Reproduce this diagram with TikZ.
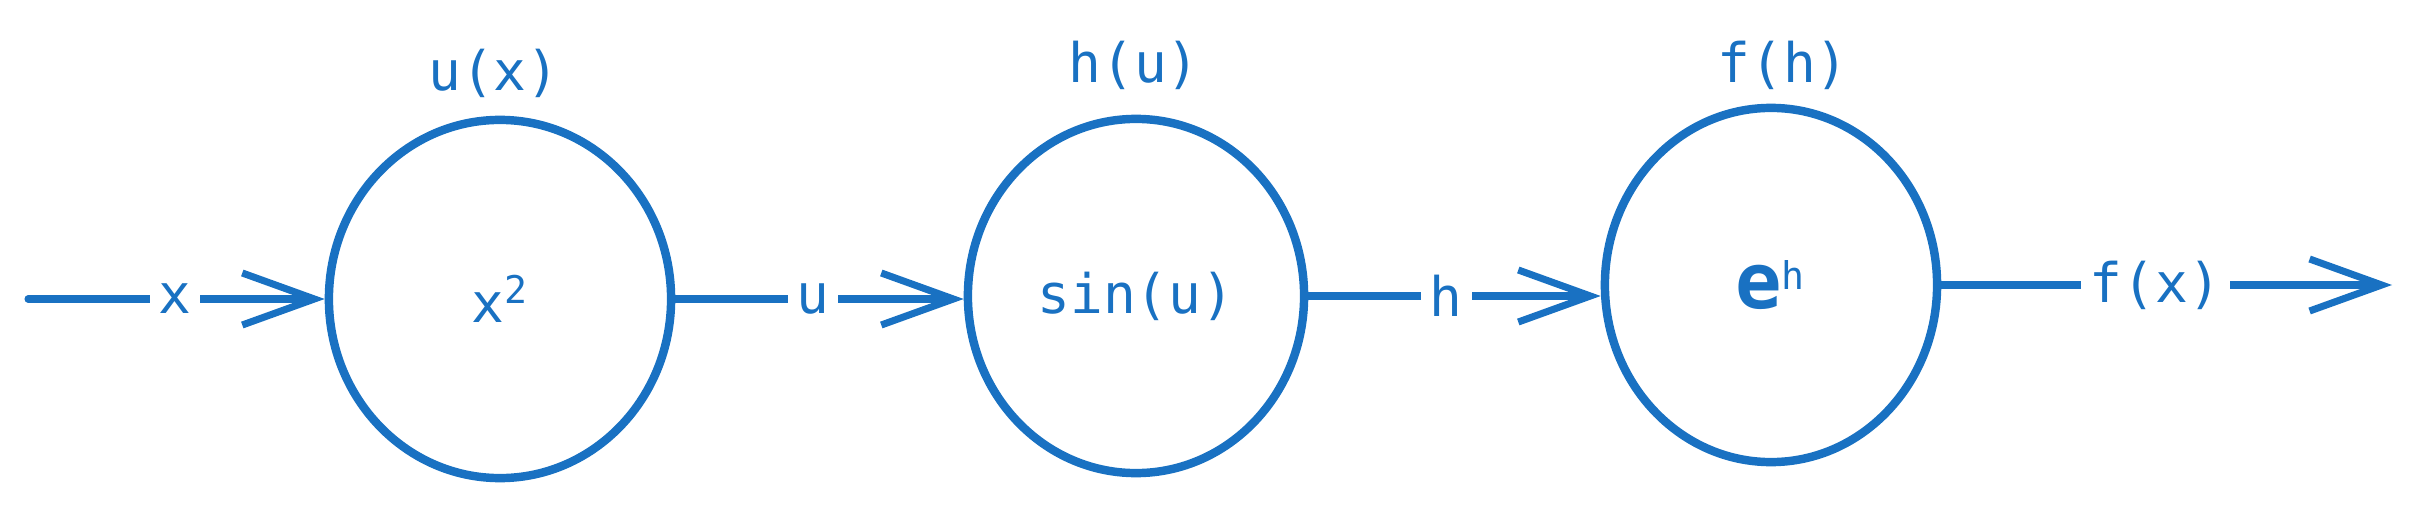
\documentclass[tikz,border=0pt]{standalone}
\usepackage{fontspec}
\setmonofont{DejaVu Sans Mono}
\usetikzlibrary{shapes.geometric,arrows.meta}
\definecolor{exblue}{RGB}{25,113,194}
\tikzset{
  blob/.style={ellipse, draw=exblue, line width=2.4pt, inner sep=0pt,
    font=\ttfamily\fontsize{15.5pt}{18pt}\selectfont, text=exblue},
  lbl/.style={font=\ttfamily\fontsize{15.5pt}{18pt}\selectfont, text=exblue, inner sep=0pt},
  elbl/.style={lbl, fill=white, inner xsep=2.5pt, inner ysep=2pt},
  conn/.style={draw=exblue, line width=2pt, line cap=round,
    -{Straight Barb[length=7.2mm,width=5.2mm,line width=2pt]}},
}
\begin{document}
\begin{tikzpicture}[x=0.01cm,y=-0.01cm]
\useasboundingbox (0,0) rectangle (2420,506);
\node[blob, minimum width=3.42cm, minimum height=3.58cm] (c1) at (500,299) {x\textsuperscript{2}};
\node[blob, minimum width=3.36cm, minimum height=3.54cm] (c2) at (1136,296) {sin(u)};
\node[blob, minimum width=3.32cm, minimum height=3.54cm] (c3) at (1771,285) {{\fontsize{22pt}{22pt}\selectfont\bfseries e}\textsuperscript{h}};
\node[lbl] (l1) at (494,73) {u(x)};
\node[lbl] (l2) at (1134,65) {h(u)};
\node[lbl] (l3) at (1783,65) {f(h)};
\coordinate (in) at (28,299);
\coordinate (out) at (2392,285);
\draw[conn] (in) -- node[elbl, pos=0.495] (ex) {x} (c1.west);
\draw[conn] (c1.east) -- node[elbl, pos=0.478] (eu) {u} (c1.east -| c2.west);
\draw[conn] (c2.east) -- node[elbl, pos=0.472] (eh) {h} (c2.east -| c3.west);
\draw[conn] (c3.east) -- node[elbl, pos=0.475] (ef) {f(x)} (out);
\end{tikzpicture}
\end{document}
